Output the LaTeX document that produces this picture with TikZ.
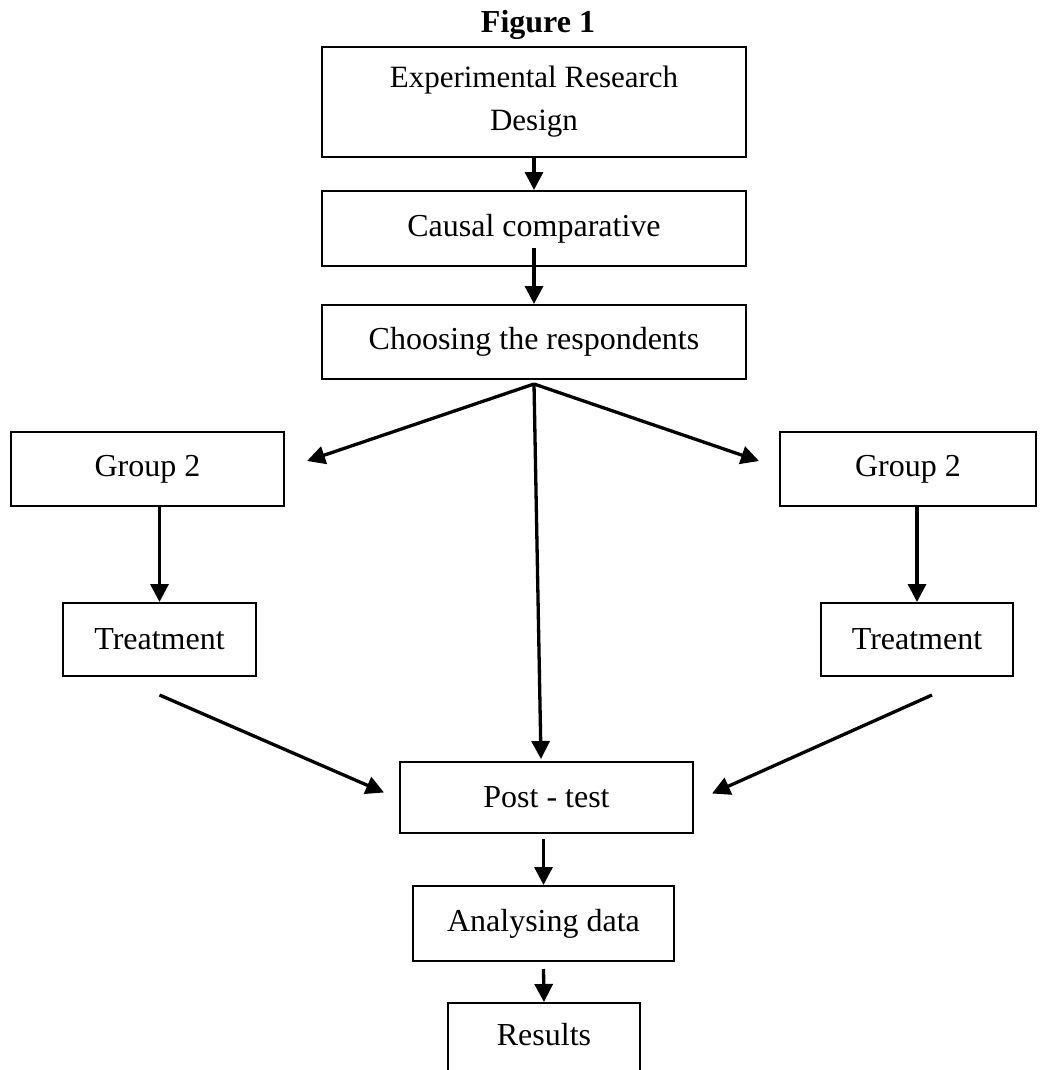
\documentclass[tikz,border=0pt]{standalone}
\usepackage{fontspec}
\setmainfont{Liberation Serif}
\usetikzlibrary{arrows.meta,calc}
\begin{document}
\begin{tikzpicture}[x=1pt,y=-1pt,
  box/.style={draw=black,line width=2pt,rectangle,inner sep=0pt,
    font=\fontsize{32}{43}\selectfont,align=center},
  arr/.style={line width=3.3pt,-{Triangle[length=18pt,width=18pt]}}]
\path[use as bounding box] (0,0) rectangle (1046,1070);
\clip (0,0) rectangle (1046,1070);

\node[font=\fontsize{32}{38}\selectfont\bfseries] (title) at (538,25) {Figure 1};

\node[box,font=\fontsize{31}{43}\selectfont,minimum width=424,minimum height=110] (b1) at (534,102) {Experimental Research\\Design};
\node[box,minimum width=424,minimum height=75] (b2) at (534,228.5) {Causal comparative};
\node[box,minimum width=424,minimum height=74] (b3) at (534,342) {Choosing the respondents};

\node[box,minimum width=273,minimum height=74] (g2l) at (147.5,469) {Group 2};
\node[box,minimum width=256,minimum height=74] (g2r) at (908,469) {Group 2};

\node[box,minimum width=193,minimum height=73] (trl) at (159.5,639.5) {Treatment};
\node[box,minimum width=192,minimum height=73] (trr) at (917,639.5) {Treatment};

\node[box,minimum width=293,minimum height=71] (post) at (546.5,797.5) {Post - test};
\node[box,minimum width=261,minimum height=75] (anal) at (543.5,923.5) {Analysing data};
\node[box,minimum width=192,anchor=north,text height=26pt,text depth=70pt,inner ysep=16pt] (res) at (544,1002) {Results};

\coordinate (br) at ($(b3.south)+(0,4)$);

\draw[arr] (b1.south) -- (b2.north);
\draw[arr] ($(b2.south)+(0,-19)$) -- (b3.north);
\draw[arr] (br) -- ($(g2l.east)+(22,-8)$);
\draw[arr] (br) -- ($(g2r.west)+(-20,-8)$);
\draw[arr] (br) -- ($(post.north)+(-5.5,-2)$);
\draw[arr] (trl.north |- g2l.south) -- (trl.north);
\draw[arr] (trr.north |- g2r.south) -- (trr.north);
\draw[arr] ($(trl.south)+(0,18)$) -- ($(post.west)+(-15,-5)$);
\draw[arr] ($(trr.south)+(15,18)$) -- ($(post.east)+(18,-4)$);
\draw[arr] ($(anal.north |- post.south)+(0,5)$) -- (anal.north);
\draw[arr] ($(anal.south)+(0,7)$) -- (res.north);
\end{tikzpicture}
\end{document}
